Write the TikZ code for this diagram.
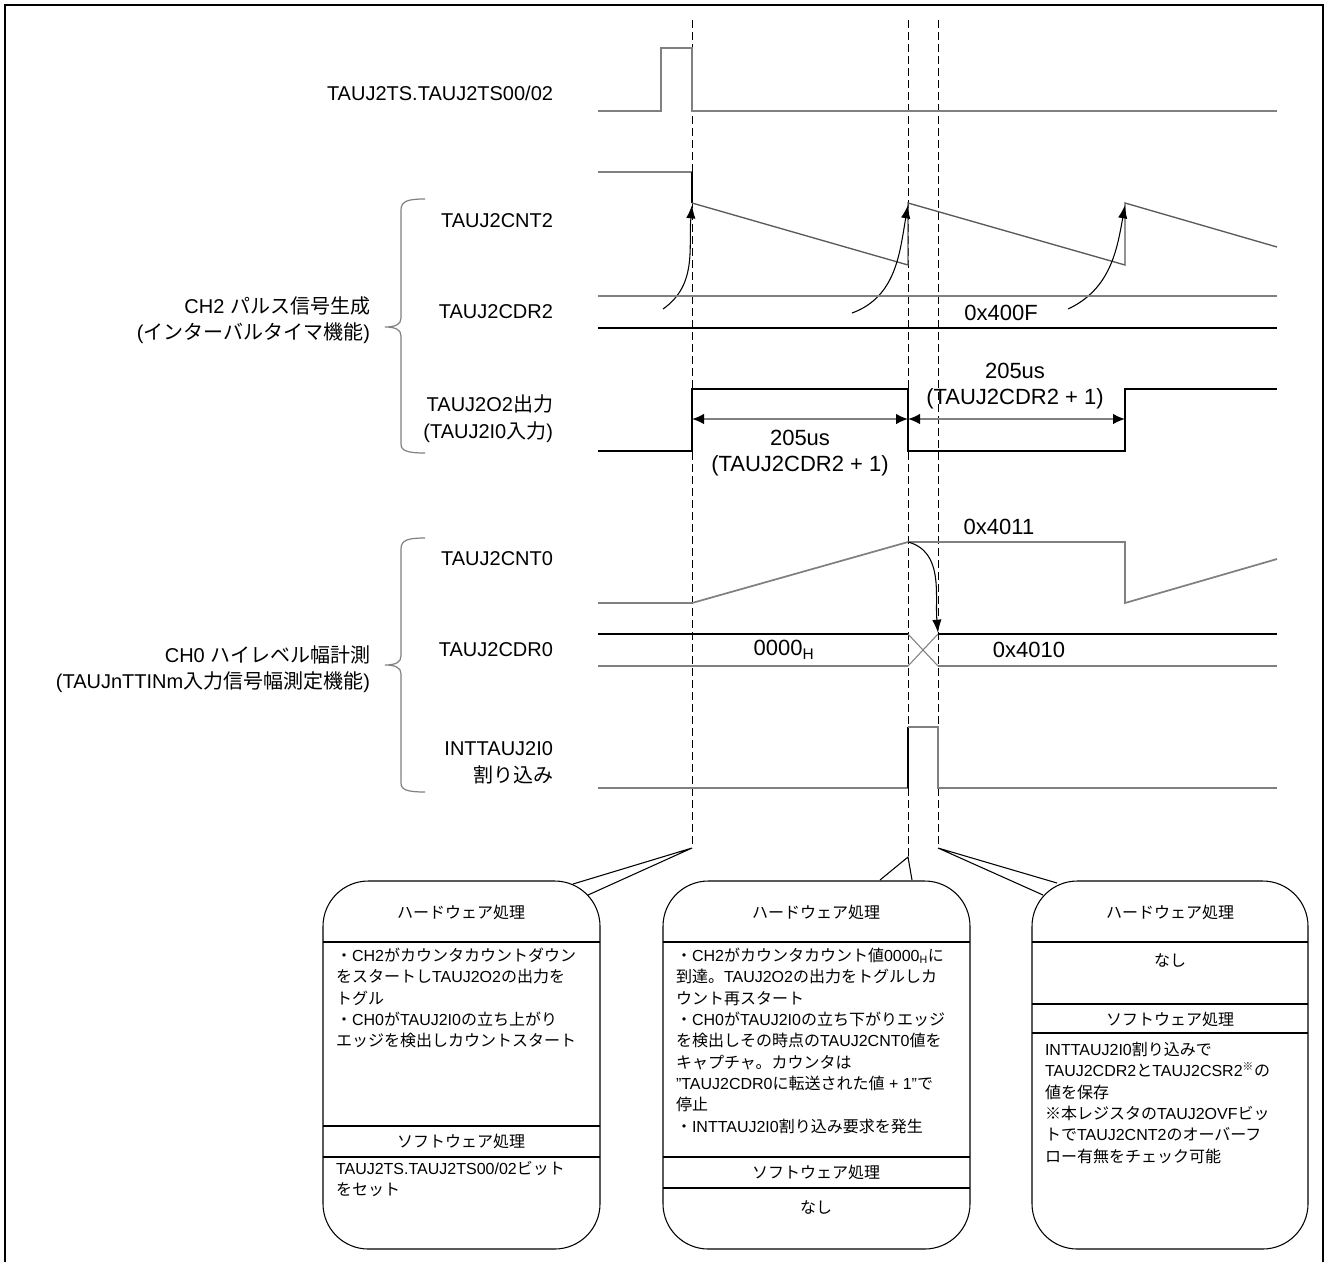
\documentclass[tikz,border=0pt]{standalone}
\usepackage{fontspec}
\setmainfont{Liberation Sans}
\newfontfamily\jp{Noto Sans CJK JP}
\newcommand{\ja}[1]{{\jp #1}}
\usepackage{tikz}
\usetikzlibrary{arrows.meta}
\usetikzlibrary{positioning}
\definecolor{siggray}{HTML}{808080}
\definecolor{sawgray}{HTML}{5A5A5A}

\begin{document}
\begin{tikzpicture}
          [x=0.75pt, y=-0.75pt,
           every node/.style={inner sep=0pt, outer sep=0pt},
           lbl/.style={anchor=east, align=right, font=\fontsize{15}{20}\selectfont},
           val/.style={font=\fontsize{16.5}{20}\selectfont},
           sig/.style={draw=siggray, line width=1.3pt},
           saw/.style={draw=sawgray, line width=1pt},
           wire/.style={draw=black, line width=0.8pt},
           guide/.style={draw=black, line width=0.6pt, dash pattern=on 6pt off 3pt},
           arr/.style={wire, -{Latex[length=10pt, width=7pt]}},
           dim/.style={draw=siggray, line width=1.3pt,
             {Latex[length=9pt, width=8pt, color=black]}-{Latex[length=9pt, width=8pt, color=black]}},
           grp/.style={draw=siggray, line width=0.9pt},
           card/.style={draw, line width=0.8pt, rounded corners=34pt, minimum height=276pt},
           head/.style={font=\fontsize{12}{16}\selectfont},
           txt/.style={anchor=north west, align=left, font=\fontsize{12}{16}\selectfont}]
          \useasboundingbox (0,0) rectangle (1330,1261);

          % frame
          \draw[line width=2.2pt] (5,1270) -- (5,5) -- (1323,5) -- (1323,1270);

          % signal names
          \node[lbl] (ts) at (553,93) {TAUJ2TS.TAUJ2TS00/02};
          \node[lbl] (cnt2) at (553,221) {TAUJ2CNT2};
          \node[lbl] (cdr2) at (553,312) {TAUJ2CDR2};
          \node[lbl] (o2) at (553,419) {TAUJ2O2\ja{出力}\\(TAUJ2I0\ja{入力})};
          \node[lbl] (cnt0) at (553,559) {TAUJ2CNT0};
          \node[lbl] (cdr0) at (553,650) {TAUJ2CDR0};
          \node[lbl] (intr) at (553,763) {INTTAUJ2I0\\\ja{割り込み}};

          \node[lbl] (ch2) at (370,320) {CH2 \ja{パルス信号生成}\\(\ja{インターバルタイマ機能})};
          \node[lbl] (ch0) at (370,669) {CH0 \ja{ハイレベル幅計測}\\(TAUJnTTINm\ja{入力信号幅測定機能})};

          % braces
          \draw[grp] (425,199) .. controls (408,199) and (401,201) .. (401,210) -- (401,318)
            .. controls (401,324) and (396,327) .. (385,327)
            .. controls (396,327) and (401,330) .. (401,336) -- (401,444)
            .. controls (401,451) and (408,453) .. (425,453);
          \draw[grp] (425,538) .. controls (408,538) and (401,540) .. (401,549) -- (401,656)
            .. controls (401,662) and (396,665) .. (385,665)
            .. controls (396,665) and (401,668) .. (401,674) -- (401,783)
            .. controls (401,790) and (408,792) .. (425,792);

          % guides
          \coordinate (g1) at (692,20);
          \coordinate (g2) at (908,20);
          \coordinate (g3) at (938,20);
          \coordinate (tip1) at (692,848);
          \coordinate (tip2) at (908,857);
          \coordinate (tip3) at (938,848);
          \draw[guide] (g1) -- (tip1);
          \draw[guide] (g2) -- (tip2);
          \draw[guide] (g3) -- (tip3);

          % TAUJ2TS
          \draw[sig] (598,111) -- (661,111) -- (661,48) -- (692,48) -- (692,111) -- (1277,111);

          % TAUJ2CNT2
          \draw[sig] (598,172) -- (692,172);
          \draw[wire] (692,172) -- (692,203);
          \draw[saw] (692,203) -- (908,265) -- (908,203) -- (1125,265) -- (1125,203) -- (1277,247);
          \coordinate (s1) at (663,309);
          \coordinate (p1) at (692,205);
          \coordinate (s2) at (852,313);
          \coordinate (p2) at (908,205);
          \coordinate (s3) at (1068,309);
          \coordinate (p3) at (1125,205);
          \draw[arr] (s1) to[out=35, in=-95] (p1);
          \draw[arr] (s2) to[out=20, in=-100] (p2);
          \draw[arr] (s3) to[out=25, in=-100] (p3);

          % TAUJ2CDR2
          \draw[sig] (598,296) -- (1277,296);
          \draw[wire] (598,328) -- (1277,328);
          \node[val] (v400f) at (1001,313) {0x400F};

          % TAUJ2O2
          \draw[wire] (598,451) -- (692,451) -- (692,389) -- (908,389) -- (908,451)
            -- (1125,451) -- (1125,389) -- (1277,389);
          \coordinate (w1) at (692,419);
          \coordinate (w2) at (908,419);
          \coordinate (w3) at (1125,419);
          \draw[dim] (w1) -- (w2);
          \draw[dim] (w2) -- (w3);
          \node[val, align=center] (t1) at (800,453) {205us\\(TAUJ2CDR2 + 1)};
          \node[val, align=center] (t2) at (1015,386) {205us\\(TAUJ2CDR2 + 1)};

          % TAUJ2CNT0
          \draw[sig] (598,603) -- (692,603) -- (908,542) -- (1125,542) -- (1125,603) -- (1277,559);
          \node[val] (v4011) at (999,527) {0x4011};
          \coordinate (c0) at (908,542);
          \coordinate (cap) at (938,633);
          \draw[arr] (c0) to[out=-15, in=95] (cap);

          % TAUJ2CDR0
          \draw[wire] (598,634) -- (908,634);
          \draw[sig] (598,666) -- (908,666);
          \draw[siggray, line width=0.8pt] (908,634) -- (938,666) (908,666) -- (938,634);
          \draw[wire] (938,634) -- (1277,634);
          \draw[sig] (938,666) -- (1277,666);
          \node[val] (v0000) at (784,650) {0000\textsubscript{H}};
          \node[val] (v4010) at (1029,650) {0x4010};

          % INTTAUJ2I0
          \draw[sig] (598,788) -- (908,788);
          \draw[wire] (908,788) -- (908,727);
          \draw[sig] (908,727) -- (938,727) -- (938,788) -- (1277,788);

          % cards
          \node[card, minimum width=207.75pt] (card1) at (461.5,1065) {};
          \node[card, minimum width=230.25pt] (card2) at (816.5,1065) {};
          \node[card, minimum width=207pt] (card3) at (1170,1065) {};

          \coordinate (c1a) at (573,884);
          \coordinate (c1b) at (588,895);
          \coordinate (c2a) at (880,880);
          \coordinate (c2b) at (912,880);
          \coordinate (c3a) at (1057,883);
          \coordinate (c3b) at (1043,895);
          \draw[wire] (c1a) -- (tip1) -- (c1b);
          \draw[wire] (c2a) -- (tip2) -- (c2b);
          \draw[wire] (c3a) -- (tip3) -- (c3b);

          \draw[wire] (323,942) -- (600,942) (323,1126) -- (600,1126) (323,1157) -- (600,1157);
          \draw[wire] (663,942) -- (970,942) (663,1157) -- (970,1157) (663,1188) -- (970,1188);
          \draw[wire] (1032,942) -- (1308,942) (1032,1004) -- (1308,1004) (1032,1033) -- (1308,1033);

          \node[head] (h1) at (461,912) {\ja{ハードウェア処理}};
          \node[txt] (b1) at (336,948) {\ja{・}CH2\ja{がカウンタカウントダウン}\\
            \ja{をスタートし}TAUJ2O2\ja{の出力を}\\
            \ja{トグル}\\
            \ja{・}CH0\ja{が}TAUJ2I0\ja{の立ち上がり}\\
            \ja{エッジを検出しカウントスタート}};
          \node[head] (sw1) at (461,1141) {\ja{ソフトウェア処理}};
          \node[txt] (sb1) at (336,1161) {TAUJ2TS.TAUJ2TS00/02\ja{ビット}\\\ja{をセット}};

          \node[head] (h2) at (816,912) {\ja{ハードウェア処理}};
          \node[txt] (b2) at (676,948) {\ja{・}CH2\ja{がカウンタカウント値}0000\textsubscript{H}\ja{に}\\
            \ja{到達。}TAUJ2O2\ja{の出力をトグルしカ}\\
            \ja{ウント再スタート}\\
            \ja{・}CH0\ja{が}TAUJ2I0\ja{の立ち下がりエッジ}\\
            \ja{を検出しその時点の}TAUJ2CNT0\ja{値を}\\
            \ja{キャプチャ。カウンタは}\\
            "TAUJ2CDR0\ja{に転送された値} + 1"\ja{で}\\
            \ja{停止}\\
            \ja{・}INTTAUJ2I0\ja{割り込み要求を発生}};
          \node[head] (sw2) at (816,1172) {\ja{ソフトウェア処理}};
          \node[head] (sb2) at (816,1207) {\ja{なし}};

          \node[head] (h3) at (1170,912) {\ja{ハードウェア処理}};
          \node[head] (hb3) at (1170,960) {\ja{なし}};
          \node[head] (sw3) at (1170,1019) {\ja{ソフトウェア処理}};
          \node[txt] (sb3) at (1045,1042) {INTTAUJ2I0\ja{割り込みで}\\
            TAUJ2CDR2\ja{と}TAUJ2CSR2\textsuperscript{\ja{※}}\ja{の}\\
            \ja{値を保存}\\
            \ja{※本レジスタの}TAUJ2OVF\ja{ビッ}\\
            \ja{トで}TAUJ2CNT2\ja{のオーバーフ}\\
            \ja{ロー有無をチェック可能}};

        \end{tikzpicture}
\end{document}
